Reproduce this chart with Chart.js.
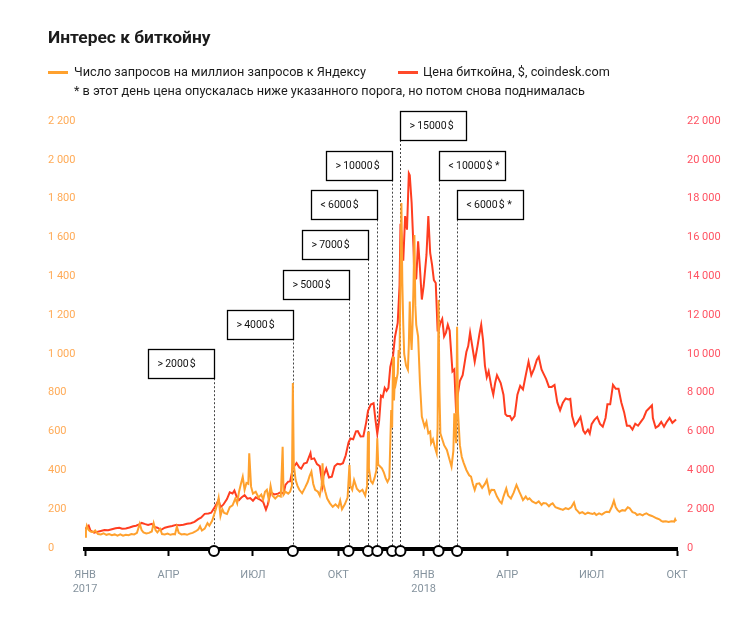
<!DOCTYPE html>
<html lang="ru">
<head>
<meta charset="utf-8">
<script src="https://cdn.jsdelivr.net/npm/chart.js@4.4.1/dist/chart.umd.min.js"></script>
<style>
  body { margin: 0; background: #fff; }
  #wrap { position: relative; width: 751px; height: 628px; font-family: Roboto, "Open Sans", sans-serif; }
  #c { position: absolute; left: 0; top: 0; }
  .t { position: absolute; white-space: nowrap; color: #1b1b1b; }
  #title { left: 48px; top: 27px; font-size: 17.4px; font-weight: 700; line-height: 20px; }
  .leg { top: 64px; font-size: 12.7px; line-height: 16px; }
  .mk { position: absolute; height: 3px; top: 71px; width: 20px; }
  #note { left: 74px; top: 83px; font-size: 12.7px; line-height: 16px; }
</style>
</head>
<body>
<div id="wrap">
  <canvas id="c" width="751" height="628"></canvas>
  <div id="title" class="t">Интерес к биткойну</div>
  <div class="mk" style="left:48px;background:#ffa12e"></div>
  <div class="t leg" style="left:74px">Число запросов на миллион запросов к Яндексу</div>
  <div class="mk" style="left:398px;background:#ff4a2a"></div>
  <div class="t leg" style="left:423px">Цена биткойна, $, coindesk.com</div>
  <div id="note" class="t">* в этот день цена опускалась ниже указанного порога, но потом снова поднималась</div>
</div>
<script>
// ---------- DATA ----------
const tickDates  = ['2017-01-01','2017-04-01','2017-07-01','2017-10-01','2018-01-01','2018-04-01','2018-07-01','2018-10-01'];
const tickLabels = [['ЯНВ','2017'],'АПР','ИЮЛ','ОКТ',['ЯНВ','2018'],'АПР','ИЮЛ','ОКТ'];

const leftTicks  = [0,200,400,600,800,1000,1200,1400,1600,1800,2000,2200];
const rightTicks = [0,2000,4000,6000,8000,10000,12000,14000,16000,18000,20000,22000];

// Search queries per million Yandex queries
const searchDates = [
 '2017-01-01','2017-01-02','2017-01-03','2017-01-05','2017-01-07','2017-01-10','2017-01-12','2017-01-15',
 '2017-01-18','2017-01-21','2017-01-24','2017-01-27','2017-01-30','2017-02-02','2017-02-05','2017-02-08',
 '2017-02-11','2017-02-14','2017-02-17','2017-02-20','2017-02-23','2017-02-26','2017-03-01','2017-03-03',
 '2017-03-05','2017-03-08','2017-03-11','2017-03-14','2017-03-16','2017-03-18','2017-03-20','2017-03-23',
 '2017-03-25','2017-03-28','2017-03-31','2017-04-03','2017-04-06','2017-04-08','2017-04-10','2017-04-12',
 '2017-04-15','2017-04-18','2017-04-21','2017-04-24','2017-04-27','2017-04-30','2017-05-03','2017-05-05',
 '2017-05-07','2017-05-10','2017-05-13','2017-05-15','2017-05-18','2017-05-20','2017-05-22','2017-05-24',
 '2017-05-25','2017-05-27','2017-05-29','2017-05-31','2017-06-03','2017-06-06','2017-06-09','2017-06-12',
 '2017-06-14','2017-06-16','2017-06-18','2017-06-20','2017-06-22','2017-06-24','2017-06-26','2017-06-27',
 '2017-06-29','2017-07-01','2017-07-04','2017-07-07','2017-07-10','2017-07-12','2017-07-14','2017-07-16',
 '2017-07-18','2017-07-20','2017-07-22','2017-07-25','2017-07-28','2017-07-31','2017-08-02','2017-08-03',
 '2017-08-05','2017-08-08','2017-08-10','2017-08-12','2017-08-13','2017-08-14','2017-08-16','2017-08-18',
 '2017-08-20','2017-08-23','2017-08-26','2017-08-29','2017-08-31','2017-09-02','2017-09-04','2017-09-06',
 '2017-09-09','2017-09-11','2017-09-13','2017-09-14','2017-09-15','2017-09-17','2017-09-19','2017-09-22',
 '2017-09-25','2017-09-28','2017-10-01','2017-10-03','2017-10-05','2017-10-08','2017-10-11','2017-10-13',
 '2017-10-14','2017-10-16','2017-10-18','2017-10-21','2017-10-24','2017-10-27','2017-10-30','2017-11-01',
 '2017-11-02','2017-11-03','2017-11-05','2017-11-07','2017-11-09','2017-11-11','2017-11-12','2017-11-13',
 '2017-11-15','2017-11-17','2017-11-19','2017-11-21','2017-11-23','2017-11-25','2017-11-26','2017-11-27',
 '2017-11-28','2017-11-29','2017-11-30','2017-12-01','2017-12-02','2017-12-04','2017-12-05','2017-12-06',
 '2017-12-07','2017-12-08','2017-12-09','2017-12-10','2017-12-11','2017-12-13','2017-12-15','2017-12-16',
 '2017-12-17','2017-12-18','2017-12-19','2017-12-20','2017-12-21','2017-12-22','2017-12-23','2017-12-24',
 '2017-12-26','2017-12-28','2017-12-30','2018-01-02','2018-01-04','2018-01-06','2018-01-08','2018-01-09',
 '2018-01-11','2018-01-13','2018-01-15','2018-01-16','2018-01-17','2018-01-18','2018-01-19','2018-01-21',
 '2018-01-23','2018-01-26','2018-01-28','2018-01-31','2018-02-02','2018-02-03','2018-02-05','2018-02-06',
 '2018-02-07','2018-02-09','2018-02-11','2018-02-13','2018-02-16','2018-02-19','2018-02-21','2018-02-23',
 '2018-02-25','2018-02-27','2018-03-02','2018-03-05','2018-03-08','2018-03-10','2018-03-13','2018-03-15',
 '2018-03-18','2018-03-21','2018-03-24','2018-03-26','2018-03-28','2018-03-31','2018-04-02','2018-04-05',
 '2018-04-08','2018-04-11','2018-04-14','2018-04-16','2018-04-18','2018-04-21','2018-04-23','2018-04-25',
 '2018-04-28','2018-05-02','2018-05-05','2018-05-08','2018-05-10','2018-05-13','2018-05-16','2018-05-18',
 '2018-05-20','2018-05-23','2018-05-26','2018-05-29','2018-05-31','2018-06-03','2018-06-06','2018-06-09',
 '2018-06-12','2018-06-14','2018-06-16','2018-06-18','2018-06-21','2018-06-24','2018-06-27','2018-06-29',
 '2018-07-02','2018-07-04','2018-07-06','2018-07-09','2018-07-12','2018-07-15','2018-07-17','2018-07-20',
 '2018-07-23','2018-07-25','2018-07-27','2018-07-29','2018-07-31','2018-08-03','2018-08-06','2018-08-09',
 '2018-08-11','2018-08-14','2018-08-17','2018-08-19','2018-08-22','2018-08-25','2018-08-27','2018-08-29',
 '2018-09-01','2018-09-04','2018-09-07','2018-09-09','2018-09-12','2018-09-14','2018-09-16','2018-09-19',
 '2018-09-22','2018-09-25','2018-09-28','2018-09-29','2018-09-30'
];
const searchValues = [
 58,90,115,92,85,82,90,72,
 70,76,68,72,66,70,64,70,
 63,68,66,72,70,78,125,92,
 80,75,78,85,128,92,80,98,
 72,70,74,68,72,70,110,78,
 70,72,68,74,78,85,95,112,
 90,100,128,115,140,170,200,235,
 258,165,200,180,175,210,220,255,
 230,290,330,367,300,335,330,488,
 316,280,290,260,275,250,290,300,
 250,320,270,255,270,265,522,275,
 290,280,290,320,850,430,350,320,
 300,282,310,340,370,393,330,300,
 290,270,320,437,330,290,255,230,
 212,225,210,245,200,225,260,428,
 320,300,350,305,290,300,270,320,
 600,410,345,333,360,400,565,430,
 420,410,390,360,340,360,540,711,
 620,986,760,880,849,900,1020,980,
 1400,1777,1364,1150,1000,940,918,1050,
 1270,1100,1020,1150,1350,1613,1250,1150,
 1089,850,677,625,650,591,600,540,
 560,520,488,620,1278,800,591,560,
 530,505,470,419,500,694,540,1140,
 700,530,470,440,402,375,368,330,
 299,330,333,310,330,350,282,300,
 299,265,240,230,265,307,270,255,
 285,325,290,270,247,265,250,256,
 240,230,240,222,232,230,215,225,
 230,210,205,200,196,205,200,210,
 234,200,190,179,185,175,182,179,
 175,180,170,178,172,182,187,185,
 215,244,210,195,187,195,192,210,
 205,185,180,170,175,168,175,179,
 170,165,158,153,148,140,136,138,
 134,138,136,148,138
];

// Bitcoin price, $ (coindesk.com)
const priceDates = [
 '2017-01-01','2017-01-03','2017-01-05','2017-01-07','2017-01-11','2017-01-14','2017-01-18','2017-01-22',
 '2017-01-26','2017-01-30','2017-02-03','2017-02-07','2017-02-10','2017-02-14','2017-02-18','2017-02-22',
 '2017-02-25','2017-03-01','2017-03-03','2017-03-07','2017-03-10','2017-03-14','2017-03-17','2017-03-20',
 '2017-03-24','2017-03-28','2017-04-01','2017-04-05','2017-04-09','2017-04-13','2017-04-17','2017-04-21',
 '2017-04-25','2017-04-29','2017-05-03','2017-05-06','2017-05-10','2017-05-14','2017-05-17','2017-05-20',
 '2017-05-23','2017-05-25','2017-05-27','2017-05-30','2017-06-03','2017-06-06','2017-06-09','2017-06-11',
 '2017-06-13','2017-06-16','2017-06-19','2017-06-22','2017-06-25','2017-06-28','2017-07-01','2017-07-04',
 '2017-07-08','2017-07-12','2017-07-15','2017-07-17','2017-07-20','2017-07-24','2017-07-28','2017-07-31',
 '2017-08-03','2017-08-05','2017-08-08','2017-08-10','2017-08-12','2017-08-13','2017-08-15','2017-08-17',
 '2017-08-20','2017-08-22','2017-08-25','2017-08-28','2017-09-01','2017-09-02','2017-09-05','2017-09-08',
 '2017-09-11','2017-09-14','2017-09-15','2017-09-18','2017-09-21','2017-09-24','2017-09-27','2017-09-30',
 '2017-10-03','2017-10-06','2017-10-09','2017-10-12','2017-10-14','2017-10-17','2017-10-20','2017-10-22',
 '2017-10-25','2017-10-28','2017-10-31','2017-11-02','2017-11-05','2017-11-08','2017-11-10','2017-11-12',
 '2017-11-14','2017-11-16','2017-11-18','2017-11-20','2017-11-22','2017-11-24','2017-11-26','2017-11-28',
 '2017-11-29','2017-12-01','2017-12-04','2017-12-06','2017-12-07','2017-12-08','2017-12-10','2017-12-12',
 '2017-12-14','2017-12-16','2017-12-17','2017-12-19','2017-12-21','2017-12-22','2017-12-24','2017-12-26',
 '2017-12-28','2017-12-30','2018-01-01','2018-01-04','2018-01-06','2018-01-08','2018-01-10','2018-01-12',
 '2018-01-14','2018-01-16','2018-01-17','2018-01-19','2018-01-21','2018-01-23','2018-01-25','2018-01-27',
 '2018-01-29','2018-02-01','2018-02-03','2018-02-05','2018-02-06','2018-02-09','2018-02-12','2018-02-14',
 '2018-02-16','2018-02-18','2018-02-20','2018-02-23','2018-02-25','2018-02-28','2018-03-02','2018-03-04',
 '2018-03-06','2018-03-08','2018-03-10','2018-03-12','2018-03-15','2018-03-17','2018-03-19','2018-03-21',
 '2018-03-23','2018-03-25','2018-03-28','2018-03-30','2018-04-01','2018-04-04','2018-04-06','2018-04-09',
 '2018-04-12','2018-04-15','2018-04-18','2018-04-21','2018-04-24','2018-04-27','2018-04-30','2018-05-03',
 '2018-05-05','2018-05-08','2018-05-10','2018-05-13','2018-05-16','2018-05-19','2018-05-22','2018-05-25',
 '2018-05-28','2018-05-31','2018-06-03','2018-06-06','2018-06-08','2018-06-10','2018-06-13','2018-06-16',
 '2018-06-19','2018-06-22','2018-06-24','2018-06-27','2018-06-29','2018-07-01','2018-07-04','2018-07-07',
 '2018-07-10','2018-07-13','2018-07-16','2018-07-18','2018-07-21','2018-07-24','2018-07-27','2018-07-30',
 '2018-08-02','2018-08-05','2018-08-08','2018-08-11','2018-08-14','2018-08-17','2018-08-20','2018-08-23',
 '2018-08-26','2018-08-29','2018-09-01','2018-09-04','2018-09-05','2018-09-08','2018-09-11','2018-09-14',
 '2018-09-17','2018-09-20','2018-09-23','2018-09-26','2018-09-30'
];
const priceValues = [
 998,1035,1150,890,790,830,880,925,
 915,970,1015,1045,990,1005,1055,1120,
 1150,1225,1290,1230,1190,1245,1090,1045,
 940,1045,1090,1130,1190,1175,1200,1245,
 1275,1345,1490,1565,1760,1780,1820,2040,
 2290,2480,2100,2230,2520,2870,2810,2960,
 2700,2470,2620,2720,2540,2570,2430,2610,
 2510,2380,1980,2240,2870,2760,2800,2880,
 2800,3250,3420,3430,3880,4150,4250,4380,
 4150,4090,4350,4390,4890,4580,4620,4320,
 4220,3240,3700,4090,3630,3670,4210,4340,
 4310,4370,4780,5430,5640,5600,6010,6020,
 5750,5760,6460,7070,7390,7460,6620,5880,
 6560,7850,7780,8250,8100,8250,9330,9740,
 9900,10860,11600,13540,16700,16200,14800,17100,
 16400,19300,19200,17800,15500,13800,13900,15800,
 14400,12800,13500,15100,17100,15200,14600,13800,
 13650,11200,11200,11600,11800,10900,11100,11500,
 11200,9100,9200,6950,7700,8600,8900,9500,
 10100,10400,11100,10200,9600,10400,11000,11500,
 10700,9400,8800,9100,8300,7900,8500,8900,
 8700,8500,7900,6900,6800,6800,6600,6800,
 7900,8350,8170,8900,9600,8900,9240,9700,
 9850,9200,9000,8700,8300,8300,8400,7500,
 7100,7490,7700,7650,7680,6800,6300,6500,
 6750,6050,5900,6100,5900,6380,6600,6750,
 6390,6250,6700,7400,7400,8400,8200,8200,
 7500,7000,6300,6300,6100,6400,6300,6500,
 6700,7050,7200,7350,6700,6200,6290,6500,
 6250,6500,6700,6450,6620
];

// Price threshold events
const eventDates  = ['2017-05-20','2017-08-13','2017-10-12','2017-11-02','2017-11-12','2017-11-28','2017-12-07','2018-01-17','2018-02-06'];
const eventLabels = ['>\u20092000\u200a$','>\u20094000\u200a$','>\u20095000\u200a$','>\u20097000\u200a$','<\u20096000\u200a$','>\u200910000\u200a$','>\u200915000\u200a$','<\u200910000\u200a$ *','<\u20096000\u200a$ *'];

// ---------- LAYOUT / STYLE (not data) ----------
const eventRow  = [6,5,4,3,2,1,0,1,2];
const eventSide = ['left','left','left','left','left','left','right','right','right'];
const FONT = 'Roboto, "Open Sans", sans-serif';
const ORANGE = '#ffa12e', RED = '#ff3d20';

const T0 = Date.UTC(2017,0,1), DAY = 86400000;
const toDay = s => { const p = s.split('-').map(Number); return Math.round((Date.UTC(p[0],p[1]-1,p[2]) - T0) / DAY); };

const tickDays = tickDates.map(toDay);
const searchPts = searchDates.map((d,i) => ({x: toDay(d), y: searchValues[i]}));
const pricePts  = priceDates.map((d,i) => ({x: toDay(d), y: priceValues[i]}));
const eventDays = eventDates.map(toDay);

const fmt = v => v >= 1000 ? Math.floor(v/1000) + ' ' + String(v % 1000).padStart(3,'0') : String(v);

const eventPlugin = {
  id: 'events',
  beforeDatasetsDraw(chart) {
    const {ctx, chartArea, scales} = chart;
    ctx.save();
    ctx.strokeStyle = '#444';
    ctx.lineWidth = 1;
    ctx.setLineDash([2,2]);
    eventDays.forEach((d,i) => {
      const x = Math.round(scales.x.getPixelForValue(d)) + 0.5;
      const top = chartArea.top - 10 + eventRow[i]*39.7 + 29;
      ctx.beginPath();
      ctx.moveTo(x, top);
      ctx.lineTo(x, chartArea.bottom);
      ctx.stroke();
    });
    ctx.restore();
  },
  afterDraw(chart) {
    const {ctx, chartArea, scales} = chart;
    ctx.save();
    eventDays.forEach((d,i) => {
      const x = Math.round(scales.x.getPixelForValue(d)) + 0.5;
      const top = Math.round(chartArea.top - 10 + eventRow[i]*39.7) + 0.5;
      const w = 66, h = 29;
      const left = eventSide[i] === 'left' ? x - w : x;
      ctx.fillStyle = '#fff';
      ctx.fillRect(left, top, w, h);
      ctx.strokeStyle = '#000';
      ctx.lineWidth = 1.3;
      ctx.setLineDash([]);
      ctx.strokeRect(left, top, w, h);
      ctx.fillStyle = '#111';
      ctx.font = '10.5px ' + FONT;
      ctx.textBaseline = 'middle';
      ctx.textAlign = 'left';
      ctx.fillText(eventLabels[i], left + 9, top + h/2 + 0.5);
    });
    const y = chartArea.bottom + 2;
    eventDays.forEach(d => {
      const x = scales.x.getPixelForValue(d);
      ctx.beginPath();
      ctx.arc(x, y, 5, 0, Math.PI*2);
      ctx.fillStyle = '#fff';
      ctx.fill();
      ctx.lineWidth = 2;
      ctx.strokeStyle = '#000';
      ctx.stroke();
    });
    ctx.restore();
  }
};

new Chart(document.getElementById('c').getContext('2d'), {
  type: 'line',
  data: {
    datasets: [
      { label: 'Число запросов на миллион запросов к Яндексу', data: searchPts, yAxisID: 'yL',
        borderColor: ORANGE, borderWidth: 2, pointRadius: 0, tension: 0, fill: false },
      { label: 'Цена биткойна, $, coindesk.com', data: pricePts, yAxisID: 'yR',
        borderColor: RED, borderWidth: 2, pointRadius: 0, tension: 0, fill: false }
    ]
  },
  options: {
    responsive: false,
    animation: false,
    events: [],
    layout: { padding: { left: 48, top: 121, right: 0, bottom: 0 } },
    plugins: { legend: { display: false }, tooltip: { enabled: false }, title: { display: false } },
    scales: {
      x: {
        type: 'linear', min: tickDays[0], max: tickDays[tickDays.length-1],
        afterBuildTicks: s => { s.ticks = tickDays.map(v => ({value: v})); },
        afterFit: s => { s.height = 79; },
        grid: { display: true, drawOnChartArea: false, drawTicks: true, tickLength: 7, tickWidth: 2, tickColor: '#000' },
        border: { display: true, color: '#000', width: 4 },
        ticks: {
          autoSkip: false, maxRotation: 0, padding: 12, color: '#85939e',
          font: { family: FONT, size: 11, lineHeight: 1.27 },
          callback: v => tickLabels[tickDays.indexOf(v)]
        }
      },
      yL: {
        position: 'left', min: -5.15, max: 2200,
        afterBuildTicks: s => { s.ticks = leftTicks.map(v => ({value: v})); },
        afterFit: s => { s.width = 37; },
        grid: { display: false, drawTicks: false },
        border: { display: false },
        ticks: { crossAlign: 'far', padding: 0, color: '#ffab57', font: { family: FONT, size: 11 }, callback: v => fmt(v) }
      },
      yR: {
        position: 'right', min: -51.5, max: 22000,
        afterBuildTicks: s => { s.ticks = rightTicks.map(v => ({value: v})); },
        afterFit: s => { s.width = 74; },
        grid: { display: false, drawTicks: false },
        border: { display: false },
        ticks: { crossAlign: 'near', padding: 10, color: '#ff5262', font: { family: FONT, size: 11 }, callback: v => fmt(v) }
      }
    }
  },
  plugins: [eventPlugin]
});
</script>
</body>
</html>
